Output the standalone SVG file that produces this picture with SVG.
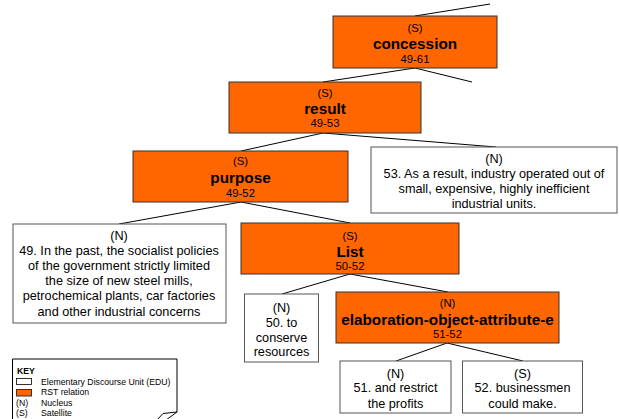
<svg xmlns="http://www.w3.org/2000/svg" width="619" height="419" viewBox="0 0 619 419">
<style>
.rel{fill:#ff6600;stroke:#333;stroke-width:1}
.edu{fill:#fff;stroke:#555;stroke-width:1}
text{font-family:"Liberation Sans",Arial,sans-serif;fill:#000;text-anchor:middle}
.s{font-size:11.3px}
.b{font-size:15.3px;font-weight:bold}
.t{font-size:12.7px}
.k{font-size:8.7px;text-anchor:start}
.conn line{stroke:#000;stroke-width:1}
</style>
<rect width="619" height="419" fill="#fff"/>
<g class="conn">
<line x1="415" y1="16" x2="490" y2="4"/>
<line x1="415" y1="68" x2="323" y2="82"/>
<line x1="415" y1="68" x2="472" y2="82"/>
<line x1="323" y1="133" x2="241" y2="151"/>
<line x1="323" y1="133" x2="496" y2="147"/>
<line x1="241" y1="202" x2="119" y2="224"/>
<line x1="241" y1="202" x2="350" y2="223"/>
<line x1="350" y1="274" x2="282" y2="294"/>
<line x1="350" y1="274" x2="448" y2="292"/>
<line x1="447" y1="343" x2="396" y2="361"/>
<line x1="447" y1="343" x2="523" y2="361"/>
</g>
<g id="concession">
<rect class="rel" x="333" y="16" width="164" height="52"/>
<text class="s" x="415" y="31.5">(S)</text>
<text class="b" x="415" y="48.5">concession</text>
<text class="s" x="415" y="63">49-61</text>
</g>
<g id="result">
<rect class="rel" x="229" y="82" width="192" height="51"/>
<text class="s" x="325" y="96.5">(S)</text>
<text class="b" x="325" y="113.5">result</text>
<text class="s" x="325" y="127">49-53</text>
</g>
<g id="edu53">
<rect class="edu" x="371" y="147" width="246" height="66"/>
<text class="t" x="494" y="162.5">(N)</text>
<text class="t" x="494" y="178">53. As a result, industry operated out of</text>
<text class="t" x="494" y="192.5">small, expensive, highly inefficient</text>
<text class="t" x="494" y="207.5">industrial units.</text>
</g>
<g id="purpose">
<rect class="rel" x="133" y="151" width="215" height="51"/>
<text class="s" x="240.5" y="165">(S)</text>
<text class="b" x="240.5" y="182.5">purpose</text>
<text class="s" x="240.5" y="196.5">49-52</text>
</g>
<g id="edu49">
<rect class="edu" x="13" y="224" width="213" height="99"/>
<text class="t" x="119" y="240">(N)</text>
<text class="t" x="119" y="254.5">49. In the past, the socialist policies</text>
<text class="t" x="119" y="270">of the government strictly limited</text>
<text class="t" x="119" y="284.5">the size of new steel mills,</text>
<text class="t" x="119" y="300">petrochemical plants, car factories</text>
<text class="t" x="119" y="316">and other industrial concerns</text>
</g>
<g id="list">
<rect class="rel" x="241" y="223" width="218" height="51"/>
<text class="s" x="350" y="239.5">(S)</text>
<text class="b" x="350" y="256.5">List</text>
<text class="s" x="350" y="270">50-52</text>
</g>
<g id="edu50">
<rect class="edu" x="244.5" y="294" width="74" height="68"/>
<text class="t" x="281.5" y="312">(N)</text>
<text class="t" x="281.5" y="326.5">50. to</text>
<text class="t" x="281.5" y="341.5">conserve</text>
<text class="t" x="281.5" y="356">resources</text>
</g>
<g id="elaboration">
<rect class="rel" x="336" y="292" width="223" height="51"/>
<text class="s" x="447.5" y="306.5">(N)</text>
<text class="b" x="447.5" y="324.5">elaboration-object-attribute-e</text>
<text class="s" x="447.5" y="338">51-52</text>
</g>
<g id="edu51">
<rect class="edu" x="340" y="361" width="111" height="52"/>
<text class="t" x="395.5" y="377.5">(N)</text>
<text class="t" x="395.5" y="392">51. and restrict</text>
<text class="t" x="395.5" y="408">the profits</text>
</g>
<g id="edu52">
<rect class="edu" x="462.5" y="361" width="120" height="52"/>
<text class="t" x="522.5" y="377.5">(S)</text>
<text class="t" x="522.5" y="392">52. businessmen</text>
<text class="t" x="522.5" y="408">could make.</text>
</g>
<g id="key">
<path d="M12.5,421 V359 H177 V412 L163,413.5 L157,420 M177,412 L166,420" fill="#fff" stroke="#000" stroke-width="1"/>
<text class="k" x="17" y="374" font-weight="bold">KEY</text>
<rect x="16.5" y="378.5" width="15" height="6" fill="#fff" stroke="#000" stroke-width="0.8"/>
<text class="k" x="41" y="385">Elementary Discourse Unit (EDU)</text>
<rect x="16.5" y="389.5" width="15" height="6.5" class="rel" stroke="#000" stroke-width="0.8"/>
<text class="k" x="41" y="395">RST relation</text>
<text class="k" x="16" y="405.5">(N)</text>
<text class="k" x="41" y="405.5">Nucleus</text>
<text class="k" x="16" y="416">(S)</text>
<text class="k" x="41" y="416">Satellite</text>
</g>
</svg>
